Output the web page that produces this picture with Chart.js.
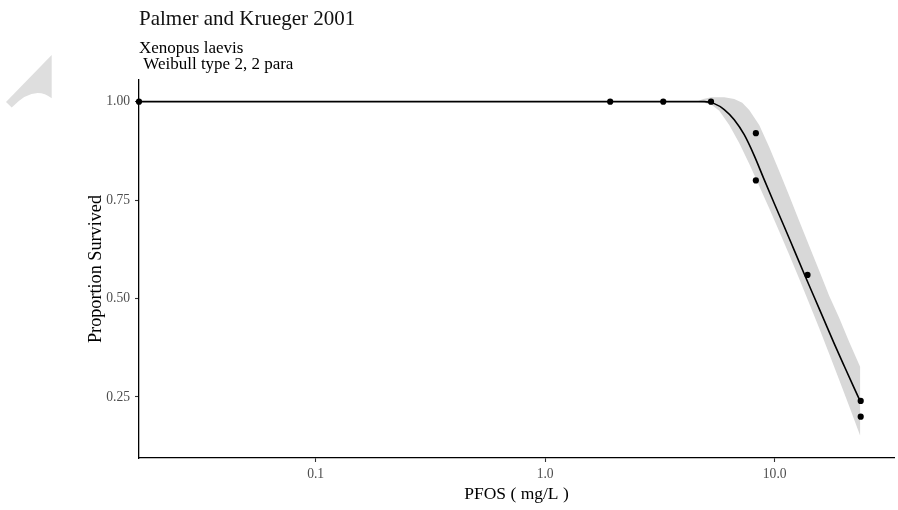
<!DOCTYPE html>
<html>
<head>
<meta charset="utf-8">
<title>Palmer and Krueger 2001</title>
<script src="https://cdn.jsdelivr.net/npm/chart.js@4.4.1/dist/chart.umd.min.js"></script>
<style>
  html, body { margin: 0; padding: 0; background: #fff; }
  #wrap { width: 898px; height: 510px; position: relative; }
</style>
</head>
<body>
<div id="wrap"><canvas id="survChart"></canvas></div>
<script>
// Observed proportion surviving at each PFOS concentration (mg/L)
const obsDose = [0.017, 1.92, 3.27, 5.28, 8.28, 8.28, 13.9, 23.7, 23.7];
const obsSurv = [1.00, 1.00, 1.00, 1.00, 0.92, 0.80, 0.56, 0.24, 0.20];

// Fitted Weibull curve
const fitDose = [0.017, 4.934, 5.454, 6.028, 6.665, 7.367, 8.144, 9.001, 9.949, 11.00,
                 12.16, 13.44, 14.86, 16.42, 18.15, 20.07, 22.18, 23.56];
const fitSurv = [1.000, 1.000, 0.995, 0.980, 0.954, 0.916, 0.863, 0.802, 0.742, 0.683,
                 0.623, 0.563, 0.504, 0.445, 0.386, 0.329, 0.273, 0.240];

// Confidence band, upper and lower edges
const bandHiDose = [4.553, 4.885, 5.292, 6.028, 6.665, 7.222, 7.745, 8.562, 9.462, 10.46,
                    11.57, 12.79, 14.13, 15.62, 17.27, 19.09, 21.10, 23.56];
const bandHi     = [1.000, 1.007, 1.011, 1.011, 1.007, 0.997, 0.979, 0.941, 0.885, 0.824,
                    0.761, 0.697, 0.634, 0.571, 0.507, 0.451, 0.390, 0.327];
const bandLoDose = [4.553, 4.934, 5.346, 5.735, 6.339, 7.005, 7.745, 8.562, 9.462, 10.46,
                    11.57, 12.79, 14.13, 15.62, 17.27, 19.09, 21.10, 23.56];
const bandLo     = [1.000, 0.997, 0.991, 0.977, 0.941, 0.895, 0.842, 0.786, 0.729, 0.671,
                    0.611, 0.550, 0.488, 0.425, 0.360, 0.294, 0.227, 0.152];

// Axis ticks
const doseTicks = [0.1, 1, 10];
const doseTickLabels = ["0.1", "1.0", "10.0"];
const survTicks = [0.25, 0.50, 0.75, 1.00];
const survTickLabels = ["0.25", "0.50", "0.75", "1.00"];

const serif = "'Liberation Serif', 'Times New Roman', serif";

function pairs(xs, ys) {
  return xs.map((x, i) => ({ x: x, y: ys[i] }));
}

// band as one closed shape: along the upper edge, back along the lower edge
const bandShape = pairs(bandHiDose, bandHi).concat(pairs(bandLoDose, bandLo).reverse());

const pageBackdrop = {
  id: "pageBackdrop",
  beforeDraw(chart) {
    const ctx = chart.ctx;
    ctx.save();
    ctx.fillStyle = "#ffffff";
    ctx.fillRect(0, 0, chart.width, chart.height);
    // pale wedge near the top-left corner
    ctx.fillStyle = "#dedede";
    ctx.beginPath();
    ctx.moveTo(51.7, 55);
    ctx.lineTo(6, 102);
    ctx.lineTo(11.7, 107.5);
    ctx.quadraticCurveTo(34, 84, 51.7, 98.3);
    ctx.closePath();
    ctx.fill();
    ctx.restore();
  }
};

const tickGrid = {
  display: true,
  drawOnChartArea: false,
  drawTicks: true,
  tickLength: 4,
  tickWidth: 1.1,
  tickColor: "#333333"
};
const axisBorder = { display: true, color: "#000000", width: 1.3 };
const tickFont = { family: serif, size: 13.6 };

new Chart(document.getElementById("survChart"), {
  type: "line",
  data: {
    datasets: [
      {
        label: "observed",
        data: pairs(obsDose, obsSurv),
        showLine: false,
        pointRadius: 3.1,
        pointBackgroundColor: "#000000",
        pointBorderWidth: 0,
        clip: false,
        order: 0
      },
      {
        label: "fit",
        data: pairs(fitDose, fitSurv),
        borderColor: "#000000",
        borderWidth: 1.6,
        pointRadius: 0,
        cubicInterpolationMode: "monotone",
        order: 1
      },
      {
        label: "95% CI",
        data: bandShape,
        borderColor: "rgba(0,0,0,0)",
        borderWidth: 0,
        backgroundColor: "#d8d8d8",
        fill: "shape",
        pointRadius: 0,
        tension: 0,
        order: 2
      }
    ]
  },
  options: {
    responsive: true,
    maintainAspectRatio: false,
    animation: false,
    events: [],
    layout: { padding: { left: 80, right: 3, top: 0, bottom: 0 } },
    plugins: {
      legend: { display: false },
      tooltip: { enabled: false },
      title: {
        display: true,
        text: "Palmer and Krueger 2001",
        align: "start",
        fullSize: false,
        color: "#111111",
        font: { family: serif, size: 21, weight: "normal", lineHeight: 1.2 },
        padding: { top: 7, bottom: 0 }
      },
      subtitle: {
        display: true,
        text: ["Xenopus laevis", " Weibull type 2, 2 para"],
        align: "start",
        fullSize: false,
        color: "#000000",
        font: { family: serif, size: 17, lineHeight: 16 / 17 },
        padding: { top: 8.1, bottom: 7.7 }
      }
    },
    scales: {
      x: {
        type: "logarithmic",
        min: 0.017,
        max: 33.1,
        afterBuildTicks: (s) => { s.ticks = doseTicks.map((v) => ({ value: v })); },
        afterFit: (s) => { s.height = 52; },
        ticks: {
          autoSkip: false,
          maxRotation: 0,
          padding: 4.5,
          color: "#4d4d4d",
          font: tickFont,
          callback: (v, i) => doseTickLabels[i]
        },
        grid: tickGrid,
        border: axisBorder,
        title: {
          display: true,
          text: "PFOS ( mg/L )",
          color: "#000000",
          font: { family: serif, size: 17.5 },
          padding: { top: 0, bottom: 5.3 }
        }
      },
      y: {
        type: "linear",
        min: 0.095,
        max: 1.055,
        afterBuildTicks: (s) => { s.ticks = survTicks.map((v) => ({ value: v })); },
        afterFit: (s) => { s.width = 59; },
        ticks: {
          padding: 5,
          color: "#4d4d4d",
          font: tickFont,
          callback: (v, i) => survTickLabels[i]
        },
        grid: tickGrid,
        border: axisBorder,
        title: {
          display: true,
          text: "Proportion Survived",
          color: "#000000",
          font: { family: serif, size: 18.2 },
          padding: { top: 5, bottom: 0 }
        }
      }
    }
  },
  plugins: [pageBackdrop]
});
</script>
</body>
</html>
